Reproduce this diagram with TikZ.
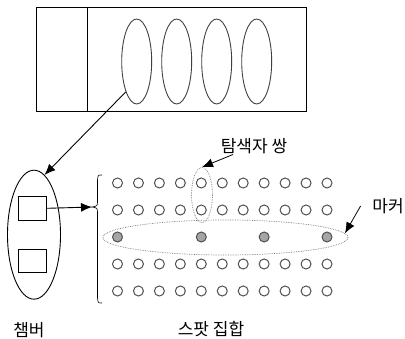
\documentclass[tikz,border=0pt]{standalone}
\usepackage{fontspec}
\setmainfont{Noto Sans CJK KR}
\usetikzlibrary{positioning,shapes.geometric,arrows.meta}
\definecolor{SpotLine}{RGB}{80,80,80}
\definecolor{SpotFill}{RGB}{165,165,165}
\definecolor{RingGray}{RGB}{120,120,120}
\begin{document}
\begin{tikzpicture}[x=1pt,y=-1pt, line width=0.9pt, font=\fontsize{17}{20}\selectfont,
  segment/.style={ellipse,draw=black!75,minimum width=30pt,minimum height=85pt,inner sep=0pt},
  spot/.style={circle,draw=SpotLine,minimum size=10pt,inner sep=0pt,line width=1pt},
  marked/.style={spot,fill=SpotFill},
  ring/.style={ellipse,draw=RingGray,densely dotted,line width=0.7pt,inner sep=0pt},
  arr/.style={-{Latex[length=11pt,width=9pt]}}]
\useasboundingbox (0,0) rectangle (405,339);

% the strip on top
\node[draw,rectangle,minimum width=270pt,minimum height=104pt,inner sep=0pt] (strip) at (171,59) {};
\draw (87.7,7) -- (87.7,111);
\foreach \i in {1,...,4}{
  \node[segment] (seg\i) at ({136.7+40*(\i-1)},61.5) {};
}

% chamber with its two boxes
\node[ellipse,draw,minimum width=53pt,minimum height=129pt,inner sep=0pt] (chamber) at (34,234.7) {};
\node[draw,rectangle,minimum width=28.5pt,minimum height=24pt,inner sep=0pt] (box1) at (32.5,208.3) {};
\node[draw,rectangle,minimum width=28.5pt,minimum height=23pt,inner sep=0pt] (box2) at (32.5,260.5) {};

% the brace
\coordinate (brace) at (92,207);
\draw[line width=0.6pt] (102,175) .. controls (98,175) .. (97.5,180) -- (97.5,201) .. controls (97.5,206) .. (brace)
  .. controls (97.5,208) .. (97.5,213) -- (97.5,298) .. controls (98,303) .. (102,303);

% grid of spots, marked row in the middle
\foreach \r in {1,...,5}{
  \foreach \c in {1,...,11}{
    \ifnum\r=3\relax\else
      \node[spot] (s-\r-\c) at ({117.5+20.95*(\c-1)},{183+27*(\r-1)}) {};
    \fi
  }
}
\foreach \c in {1,5,8,11}{
  \node[marked] (s-3-\c) at ({117.5+20.95*(\c-1)},237) {};
}

% dotted rings
\node[ring,minimum width=21pt,minimum height=55pt] (pair) at (202,195) {};
\node[ring,minimum width=245pt,minimum height=35pt] (marker) at (225.5,237.5) {};

% labels
\node (pairlabel) at (254,146) {탐색자 쌍};
\node (markerlabel) at (388,206) {마커};
\node (chamberlabel) at (29,330) {챔버};
\node (setlabel) at (211,329) {스팟 집합};

% arrows
\draw[arr] (seg1.south west) -- (chamber.80);
\draw[arr] (box1.east) -- (brace);
\draw[arr,line width=0.8pt] ([xshift=16pt,yshift=3pt]pairlabel.south west) -- (pair.north);
\draw[arr,line width=0.8pt] ([xshift=-8pt]markerlabel.west) -- (marker.2);
\end{tikzpicture}
\end{document}
